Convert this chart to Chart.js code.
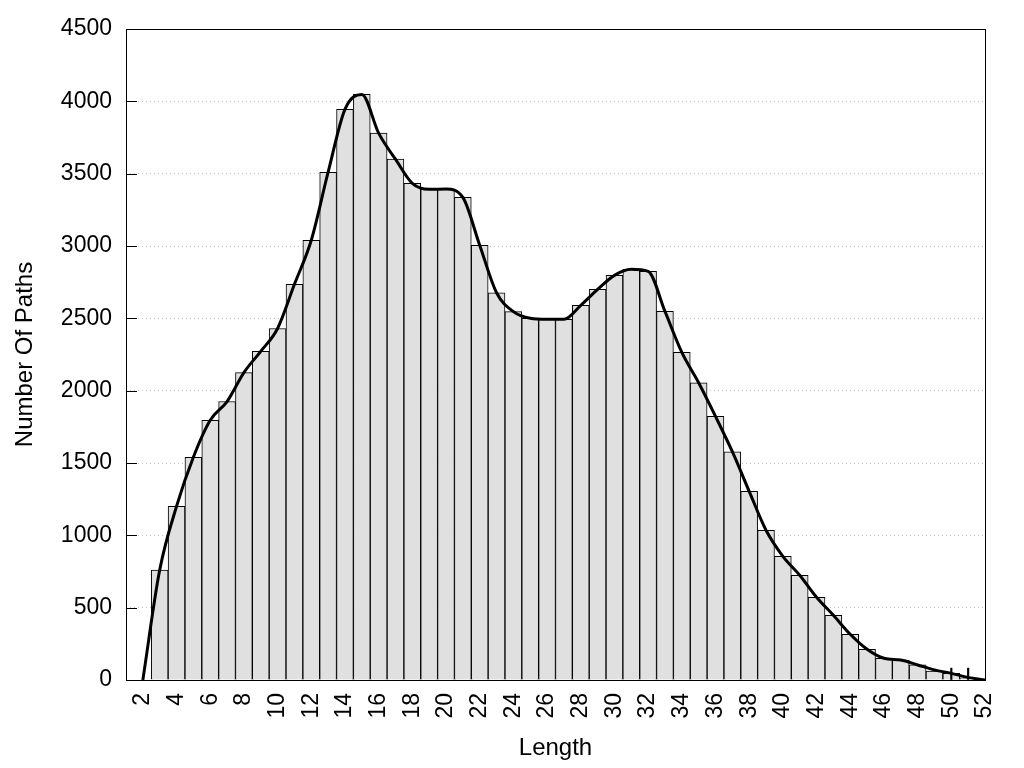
<!DOCTYPE html>
<html>
<head>
<meta charset="utf-8">
<script src="https://cdn.jsdelivr.net/npm/chart.js@4/dist/chart.umd.min.js"></script>
<style>
  html, body { margin: 0; padding: 0; background: #fff; }
  canvas { display: block; }
</style>
</head>
<body>
<canvas id="c" width="1024" height="768"></canvas>
<script>
// ---- data ----
const lengths = [3,4,5,6,7,8,9,10,11,12,13,14,15,16,17,18,19,20,21,22,23,24,25,26,27,28,29,30,31,32,33,34,35,36,37,38,39,40,41,42,43,44,45,46,47,48,49,50,51];
const pathCounts = [760,1200,1540,1795,1925,2125,2272,2430,2735,3040,3510,3945,4048,3780,3600,3433,3392,3394,3336,3005,2677,2546,2500,2493,2493,2590,2700,2797,2839,2825,2548,2265,2055,1822,1578,1304,1035,855,724,572,447,316,212,150,138,104,62,46,15];
const curveX = [2,3,4,5,6,7,8,9,10,11,12,13,14,15,16,17,18,19,20,21,22,23,24,25,26,27,28,29,30,31,32,33,34,35,36,37,38,39,40,41,42,43,44,45,46,47,48,49,50,51,52];
const curveY = [0,760,1200,1540,1795,1925,2125,2272,2430,2735,3040,3510,3945,4048,3780,3600,3433,3392,3394,3336,3005,2677,2546,2500,2493,2493,2590,2700,2797,2839,2825,2548,2265,2055,1822,1578,1304,1035,855,724,572,447,316,212,150,138,104,70,46,18,0];
const tailMarkX = [50, 51];
const tailMarkY = [82, 82];
const xTicks = [2,4,6,8,10,12,14,16,18,20,22,24,26,28,30,32,34,36,38,40,42,44,46,48,50,52];
const yTicks = [0,500,1000,1500,2000,2500,3000,3500,4000,4500];
const xTitle = 'Length';
const yTitle = 'Number Of Paths';

const FONT = 'Liberation Sans, Arial, sans-serif';

const frameAndTicks = {
  id: 'frameAndTicks',
  afterDraw(chart) {
    const {ctx, chartArea: a} = chart;
    const y = chart.scales.y;
    ctx.save();
    ctx.strokeStyle = '#000';
    ctx.lineWidth = 1;
    ctx.beginPath();
    y.ticks.forEach(t => {
      const py = Math.round(y.getPixelForValue(t.value)) + 0.5;
      ctx.moveTo(a.left, py);
      ctx.lineTo(a.left + 11, py);
    });
    ctx.stroke();
    ctx.strokeRect(Math.round(a.left) + 0.5, Math.round(a.top) + 0.5,
                   Math.round(a.right - a.left), Math.round(a.bottom - a.top));
    ctx.restore();
  }
};

new Chart(document.getElementById('c'), {
  data: {
    datasets: [
      {
        type: 'line',
        data: curveX.map((x, i) => ({x, y: curveY[i]})),
        borderColor: '#000',
        borderWidth: 3,
        pointRadius: 0,
        fill: false,
        cubicInterpolationMode: 'monotone',
        order: 0
      },
      {
        type: 'bar',
        data: lengths.map((x, i) => ({x, y: pathCounts[i]})),
        backgroundColor: '#e0e0e0',
        borderColor: '#000',
        borderWidth: 1,
        barPercentage: 1,
        categoryPercentage: 1,
        grouped: false,
        order: 2
      },
      {
        type: 'bar',
        data: tailMarkX.map((x, i) => ({x, y: tailMarkY[i]})),
        backgroundColor: '#000',
        borderWidth: 0,
        barThickness: 1.5,
        grouped: false,
        order: 1
      }
    ]
  },
  options: {
    responsive: false,
    animation: false,
    events: [],
    layout: { padding: { top: 29, right: 39, bottom: 0, left: 0 } },
    plugins: { legend: { display: false }, tooltip: { enabled: false } },
    scales: {
      x: {
        type: 'linear',
        min: 1,
        max: 52,
        offset: false,
        afterBuildTicks: s => { s.ticks = xTicks.map(v => ({value: v})); },
        afterFit: s => { s.height = 88; s.paddingRight = 0; s.paddingLeft = 0; },
        grid: { display: false, drawTicks: false },
        border: { display: false },
        ticks: {
          color: '#000',
          font: { family: FONT, size: 23 },
          minRotation: 90,
          maxRotation: 90,
          padding: 13,
          autoSkip: false,
          callback: v => String(v)
        },
        title: {
          display: true,
          text: xTitle,
          color: '#000',
          font: { family: FONT, size: 24 },
          padding: { top: 0, bottom: 5 }
        }
      },
      y: {
        type: 'linear',
        min: 0,
        max: 4500,
        afterBuildTicks: s => { s.ticks = yTicks.map(v => ({value: v})); },
        afterFit: s => { s.width = 126; },
        grid: {
          color: 'rgba(170,170,170,0.7)',
          lineWidth: 1,
          drawTicks: false
        },
        border: { display: false, dash: [1, 3] },
        ticks: {
          color: '#000',
          font: { family: FONT, size: 23 },
          padding: 14,
          callback: v => String(v)
        },
        title: {
          display: true,
          text: yTitle,
          color: '#000',
          font: { family: FONT, size: 24 },
          padding: { top: 11, bottom: 0 }
        }
      }
    }
  },
  plugins: [frameAndTicks]
});
</script>
</body>
</html>
